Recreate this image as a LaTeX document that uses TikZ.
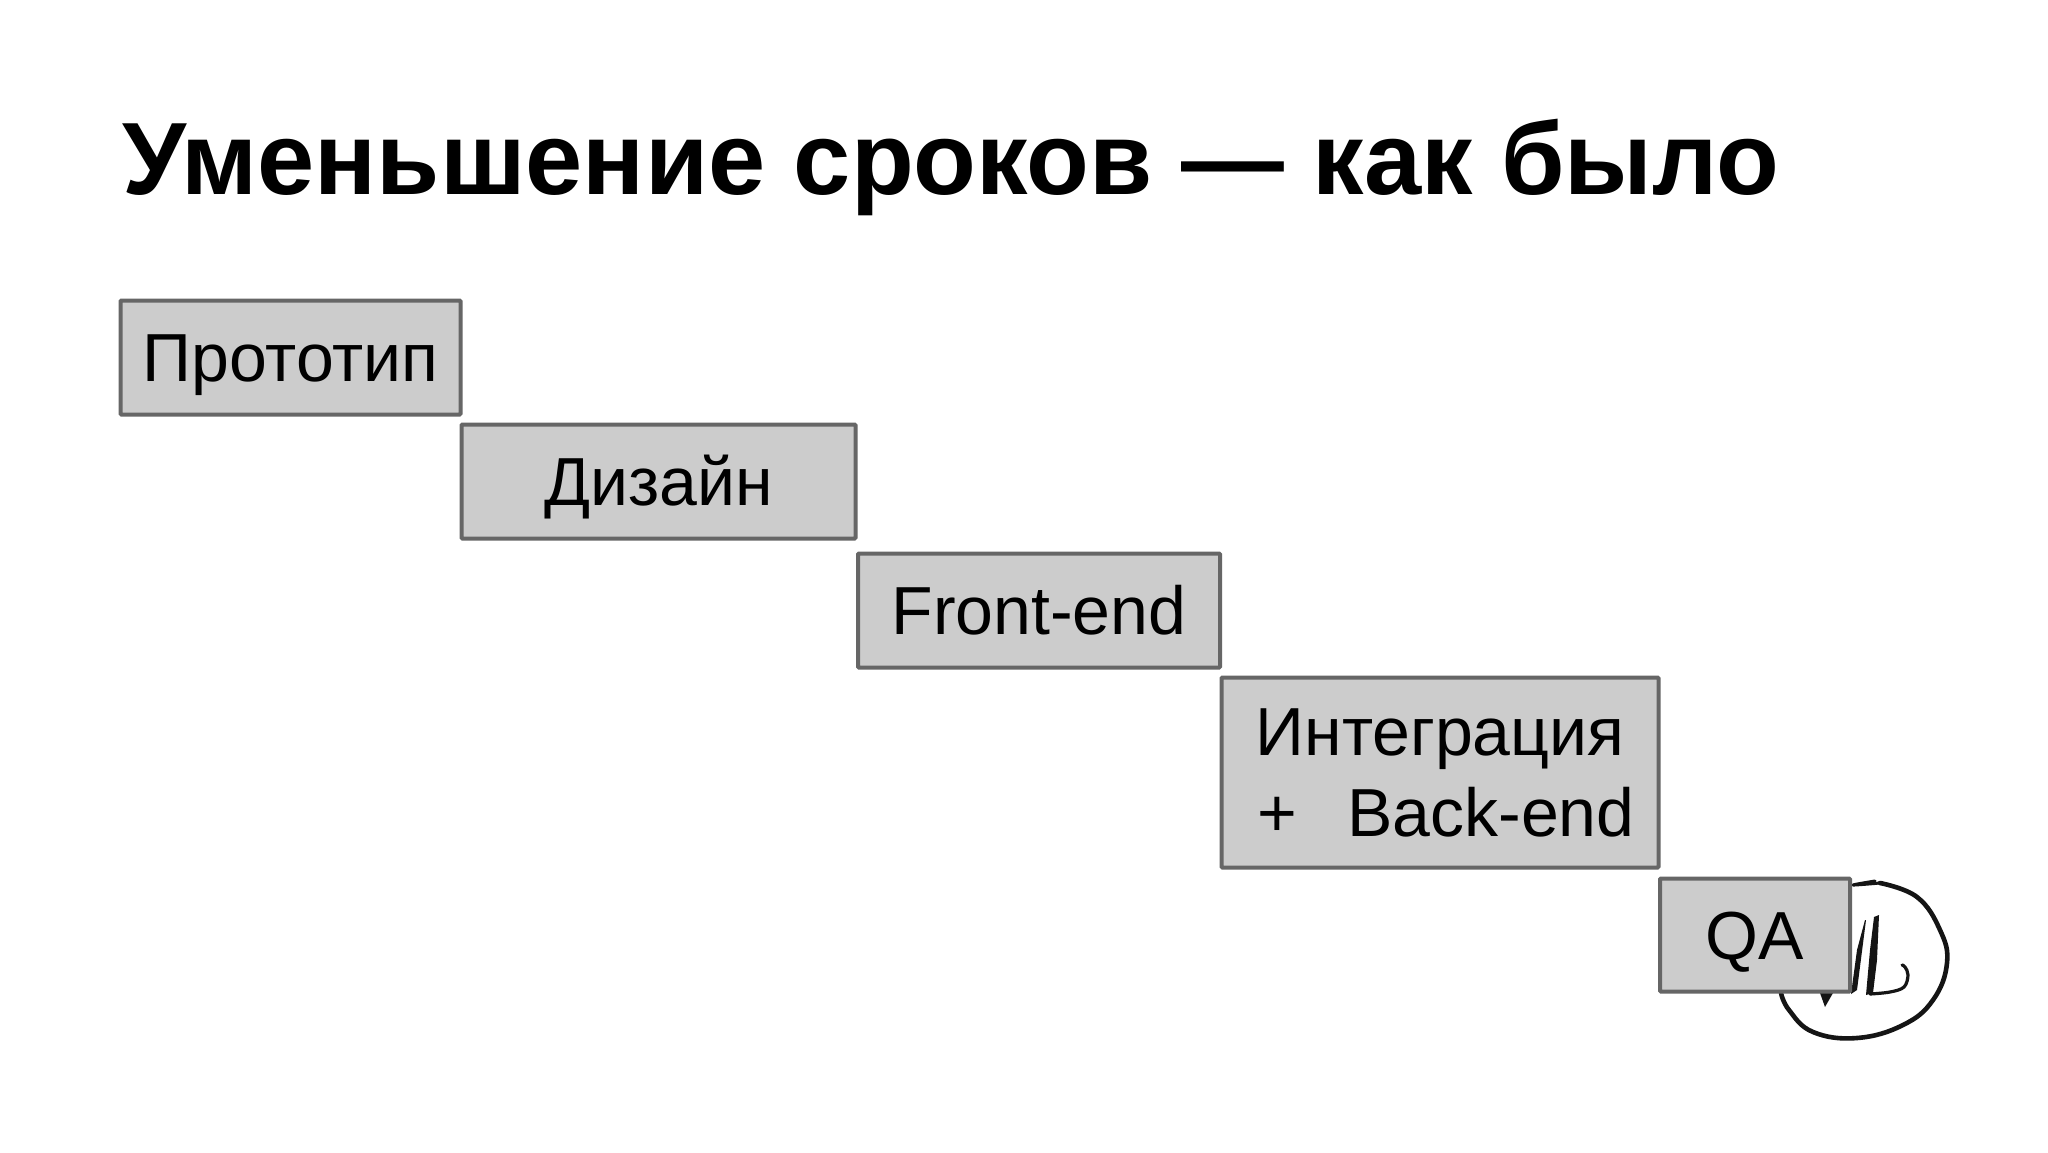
\documentclass[tikz,border=0pt]{standalone}
\usepackage{fontspec}
\setmainfont{Liberation Sans}
\tikzset{
  stage/.style={draw=boxline,fill=boxfill,line width=4pt,rounded corners=1pt,inner sep=0pt,
    align=center,text=black,font=\fontsize{68}{81}\selectfont,anchor=center},
  single/.style={text height=68pt,text depth=20pt},
  ink/.style={draw=inkc,line cap=round,line join=round}
}
\definecolor{boxline}{HTML}{666666}
\definecolor{boxfill}{HTML}{CCCCCC}
\definecolor{inkc}{HTML}{151515}
\begin{document}
\begin{tikzpicture}[x=1pt,y=-1pt]
\useasboundingbox (0,0) rectangle (2048,1152);
\fill[white] (0,0) rectangle (2048,1152);
\node[anchor=base west,inner sep=0pt,font=\fontsize{102.8}{110}\bfseries\selectfont] (title) at (122.5,194) {Уменьшение сроков — как было};
% hand-drawn logo
\draw[ink,line width=3pt] plot[smooth,tension=0.6] coordinates {(1875,881) (1853,885) (1880,883)};
\draw[ink,line width=4.6pt] plot[smooth,tension=0.7] coordinates {(1880,883) (1917,897) (1940,930) (1947,963) (1933,1000) (1903,1025) (1857,1038) (1813,1032) (1789,1010) (1781,993)};
\fill[inkc] (1865,920) -- (1866,920) -- (1857,990) -- (1851,994) -- (1857,950) -- cycle;
\fill[inkc] (1820,993) -- (1833,993) -- (1825,1007) -- cycle;
\fill[inkc] (1874,917) -- (1879,915) -- (1877,960) -- (1873,993) -- (1866,995) -- (1870,950) -- cycle;
\draw[ink,line width=3.2pt] plot[smooth,tension=0.6] coordinates {(1870,994) (1890,992) (1904,987) (1908,975) (1905,967) (1902,965)};
% stages
\node[stage,single,minimum width=340pt,minimum height=114pt] (proto) at (290.5,357.5) {Прототип};
\node[stage,single,minimum width=394pt,minimum height=114pt] (design) at (658.5,481.5) {Дизайн};
\node[stage,single,minimum width=362pt,minimum height=114pt] (front) at (1039,610.5) {Front-end};
\node[stage,minimum width=437pt,minimum height=190pt] (integ) at (1440,772.5) {Интеграция\\\hspace*{12pt}+\hspace{50pt}Back-end};
\node[stage,single,minimum width=190pt,minimum height=113pt] (qa) at (1755,935) {QA};
\end{tikzpicture}
\end{document}
